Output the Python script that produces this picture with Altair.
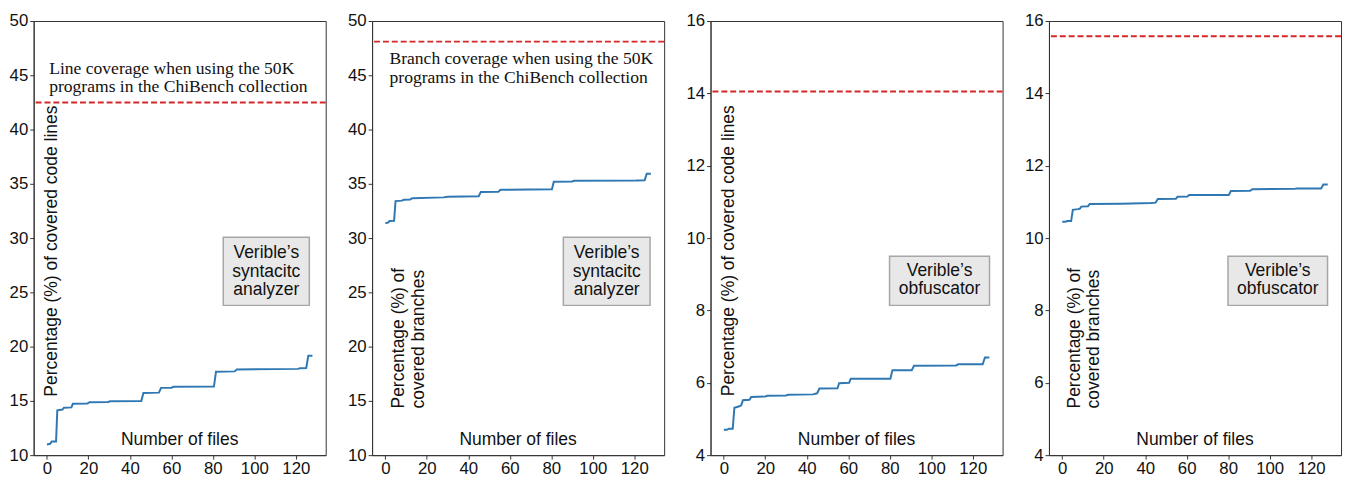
import altair as alt
import pandas as pd

X_TICKS = [0, 20, 40, 60, 80, 100, 120]
Y_TICKS_A = [10, 15, 20, 25, 30, 35, 40, 45, 50]
Y_TICKS_B = [4, 6, 8, 10, 12, 14, 16]

# Panel 1: line coverage, syntactic analyzer
p1_x = [0, 1.5, 2.3, 4.4, 5.0, 7.5, 8.2, 11.8, 12.5, 19.5, 20.5, 29.5, 30.5, 45.5, 46.5, 54, 55,
        60, 61, 80.5, 81.5, 90.5, 91.5, 121, 122, 125, 126, 128]
p1_y = [10.98, 11.05, 11.25, 11.25, 14.13, 14.2, 14.37, 14.4, 14.73, 14.75, 14.88, 14.9, 14.97, 14.98,
        15.72, 15.76, 16.2, 16.22, 16.30, 16.32, 17.68, 17.72, 17.9, 17.95, 18.0, 18.02, 19.16, 19.15]

# Panel 2: branch coverage, syntactic analyzer
p2_x = [0, 1.5, 2, 4.2, 4.9, 8, 8.8, 12, 13, 28, 30, 45, 46, 54.5, 55.5, 80.3, 81.2, 90, 91,
        121, 125, 126, 128]
p2_y = [31.37, 31.45, 31.58, 31.6, 33.41, 33.45, 33.53, 33.56, 33.68, 33.75, 33.80, 33.86, 34.24,
        34.27, 34.45, 34.50, 35.19, 35.22, 35.28, 35.30, 35.33, 35.93, 35.93]

# Panel 3: line coverage, obfuscator
p3_x = [0, 1.5, 2.5, 4.3, 5.1, 7.5, 8.4, 9.2, 12.4, 13.2, 20, 21, 30, 31, 43, 45, 46.1, 54.8, 55.6,
        60.4, 61.2, 80.3, 81.3, 90.6, 91.7, 112, 113, 124.8, 125.9, 128]
p3_y = [4.70, 4.70, 4.73, 4.73, 5.31, 5.35, 5.38, 5.52, 5.53, 5.61, 5.62, 5.64, 5.65, 5.67, 5.68,
        5.71, 5.84, 5.85, 5.99, 6.0, 6.11, 6.11, 6.35, 6.35, 6.47, 6.48, 6.51, 6.51, 6.70, 6.70]

# Panel 4: branch coverage, obfuscator
p4_x = [0, 1.5, 2.5, 4.3, 5.1, 7.5, 8.4, 9.2, 12.4, 13.2, 28.6, 42.9, 45, 46.1, 54.8, 55.6, 60.4,
        61.2, 80.3, 81.3, 90.6, 91.7, 112, 113, 124.8, 125.9, 128]
p4_y = [10.45, 10.45, 10.47, 10.47, 10.78, 10.80, 10.81, 10.87, 10.88, 10.94, 10.95, 10.97, 10.98,
        11.08, 11.09, 11.14, 11.15, 11.19, 11.19, 11.30, 11.31, 11.35, 11.36, 11.37, 11.37, 11.48, 11.48]

series_x = [p1_x, p2_x, p3_x, p4_x]
series_y = [p1_y, p2_y, p3_y, p4_y]

ref_values = [42.5, 48.1, 14.05, 15.58]
y_domains = [[10, 50], [10, 50], [4, 16], [4, 16]]
y_ticks = [Y_TICKS_A, Y_TICKS_A, Y_TICKS_B, Y_TICKS_B]

box_labels = ["Verible\u2019s\nsyntacitc\nanalyzer", "Verible\u2019s\nsyntacitc\nanalyzer",
              "Verible\u2019s\nobfuscator", "Verible\u2019s\nobfuscator"]
box_x = [[85.0, 126.5], [85.8, 127.6], [79.9, 128.1], [79.9, 127.9]]
box_y = [[23.8, 30.07], [23.8, 30.07], [8.14, 9.50], [8.14, 9.50]]
box_text_y = [26.9, 26.9, 8.84, 8.84]

ytitle_text = ["Percentage (%) of covered code lines", "Percentage (%) of\ncovered branches",
               "Percentage (%) of covered code lines", "Percentage (%) of\ncovered branches"]
ytitle_x = [2.5, 11.5, 2.4, 10.7]
ytitle_y = [28.8, 14.3, 9.65, 5.29]
ytitle_align = ["center", "left", "center", "left"]

xtitle_text = "Number of files"
xtitle_x = 64
xtitle_y = [11.36, 11.36, 4.41, 4.41]

note_text = ["Line coverage when using the 50K\nprograms in the ChiBench collection",
             "Branch coverage when using the 50K\nprograms in the ChiBench collection", None, None]
note_x = [1.1, 2.0, None, None]
note_y = [44.75, 45.64, None, None]

X_DOMAIN = [-6.4, 134.4]
W, H = 296, 440
SANS = "Liberation Sans"
SERIF = "Liberation Serif"
TXT = 17.7


def nlines(s):
    return s.count("\n") + 1


def panel(i):
    xs = alt.Scale(domain=X_DOMAIN, nice=False, zero=False)
    ys = alt.Scale(domain=y_domains[i], nice=False, zero=False)
    xenc = alt.X("x:Q", scale=xs, axis=alt.Axis(values=X_TICKS, title=None, grid=False))
    yenc = alt.Y("y:Q", scale=ys, axis=alt.Axis(values=y_ticks[i], title=None, grid=False))

    line_df = pd.DataFrame({"x": series_x[i], "y": series_y[i]})
    line = alt.Chart(line_df).mark_line(color="#2f78b3", strokeWidth=2).encode(x=xenc, y=yenc)

    rule = alt.Chart(pd.DataFrame({"y": [ref_values[i]]})).mark_rule(
        color="#d62728", strokeWidth=2, strokeDash=[6, 3]).encode(y=alt.Y("y:Q", scale=ys))

    box_df = pd.DataFrame({"x": [box_x[i][0]], "x2": [box_x[i][1]],
                           "y": [box_y[i][0]], "y2": [box_y[i][1]]})
    box = alt.Chart(box_df).mark_rect(fill="#e8e8e8", stroke="#a6a6a6", strokeWidth=1.5).encode(
        x=alt.X("x:Q", scale=xs), x2="x2:Q", y=alt.Y("y:Q", scale=ys), y2="y2:Q")

    bl = box_labels[i]
    box_txt = alt.Chart(pd.DataFrame({"x": [(box_x[i][0] + box_x[i][1]) / 2], "y": [box_text_y[i]],
                                      "t": [bl]})).mark_text(
        font=SANS, fontSize=TXT, lineBreak="\n", lineHeight=19, align="center", baseline="middle",
        dy=-(nlines(bl) - 1) * 19 / 2, color="#111").encode(
        x=alt.X("x:Q", scale=xs), y=alt.Y("y:Q", scale=ys), text="t:N")

    yt = ytitle_text[i]
    ytitle = alt.Chart(pd.DataFrame({"x": [ytitle_x[i]], "y": [ytitle_y[i]], "t": [yt]})).mark_text(
        font=SANS, fontSize=TXT, lineBreak="\n", lineHeight=20, angle=270, align=ytitle_align[i],
        baseline="middle", dy=-(nlines(yt) - 1) * 20 / 2, color="#111").encode(
        x=alt.X("x:Q", scale=xs), y=alt.Y("y:Q", scale=ys), text="t:N")

    xtitle = alt.Chart(pd.DataFrame({"x": [xtitle_x], "y": [xtitle_y[i]], "t": [xtitle_text]})).mark_text(
        font=SANS, fontSize=TXT, align="center", baseline="middle", color="#111").encode(
        x=alt.X("x:Q", scale=xs), y=alt.Y("y:Q", scale=ys), text="t:N")

    layers = [box, rule, line, box_txt, ytitle, xtitle]
    if note_text[i]:
        nt = note_text[i]
        note = alt.Chart(pd.DataFrame({"x": [note_x[i]], "y": [note_y[i]], "t": [nt]})).mark_text(
            font=SERIF, fontSize=17.8, lineBreak="\n", lineHeight=19, align="left", baseline="middle",
            dy=-(nlines(nt) - 1) * 19 / 2, color="#111").encode(
            x=alt.X("x:Q", scale=xs), y=alt.Y("y:Q", scale=ys), text="t:N")
        layers.append(note)
    return alt.layer(*layers).properties(width=W, height=H)


chart = alt.hconcat(*[panel(i) for i in range(4)], spacing=19).properties(
    padding=0
).configure_view(stroke="#333", strokeWidth=1).configure_axis(
    domainColor="#333", tickColor="#333", tickSize=4, labelPadding=2,
    labelFont=SANS, labelFontSize=17, labelColor="#111"
)

chart.save("out.html", embed_options={"renderer": "svg", "actions": False})
